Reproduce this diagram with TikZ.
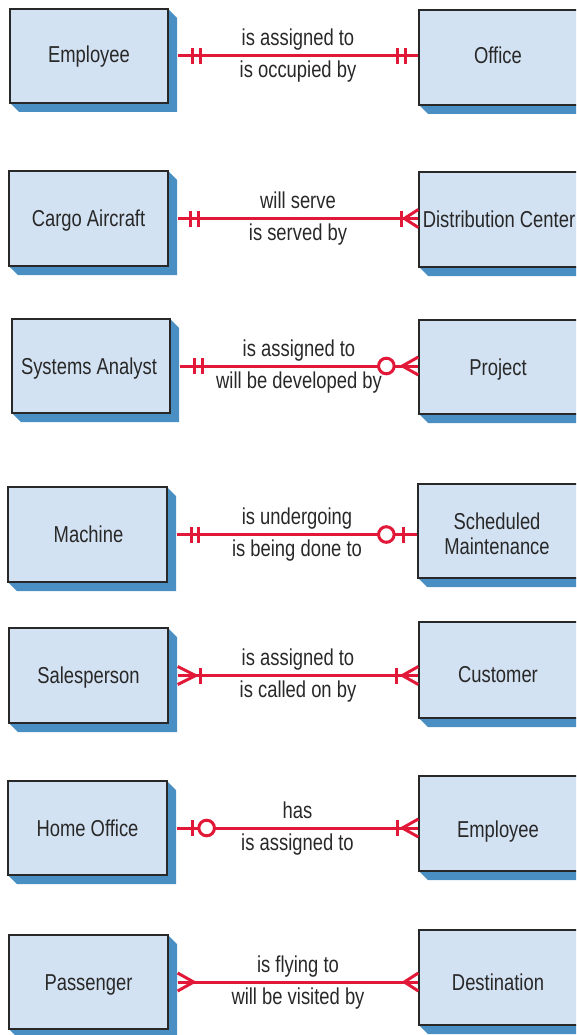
\documentclass[tikz,border=0pt]{standalone}
\usepackage{fontspec}
\setmainfont{Liberation Sans}[FakeStretch=0.8]
\usetikzlibrary{calc}
\definecolor{boxfill}{RGB}{211,226,242}
\definecolor{shadowblue}{RGB}{74,143,196}
\definecolor{relred}{RGB}{226,24,56}
\definecolor{ink}{RGB}{40,40,40}
\tikzset{
  erentity/.style={draw=ink, line width=1.3pt, fill=boxfill, inner sep=0pt},
  ername/.style={text=ink, align=center, inner sep=0pt, anchor=base,
    font=\fontsize{23}{25}\selectfont},
  relline/.style={draw=relred, line width=3pt},
  rellabel/.style={text=ink, font=\fontsize{23}{25}\selectfont, inner sep=0pt, anchor=base},
  pics/erbar/.style={code={\draw[relline] (0,-8) -- (0,8);}},
  pics/erring/.style={code={\draw[relline, fill=white] (0,0) circle (7.8);}},
  pics/ercrowR/.style={code={\draw[relline] (#1,-9) -- (0,0) -- (#1,9);}},
  pics/ercrowL/.style={code={\draw[relline] (-#1,-9) -- (0,0) -- (-#1,9);}},
}
% left entity: name, left, top, right, bottom, text, baseline y of (last line of) text, text x
\newcommand\erbox[8]{%
  \pgfmathsetmacro\erw{#4-#2}\pgfmathsetmacro\erh{#5-#3}%
  \pgfmathsetmacro\erx{(#2+#4)/2}\pgfmathsetmacro\ery{(#3+#5)/2}%
  \fill[shadowblue] (#4,#3) -- ++(9,9) -- ++(0,#5-#3) -- (#2+9,#5+9) -- (#2,#5) -- cycle;
  \node[erentity, minimum width=\erw pt, minimum height=\erh pt] (#1) at (\erx,\ery) {};
  \node[ername] (#1t) at (#8,#7) {#6};}
% right entity (cut off by the right edge): only the bottom of its shadow shows
\newcommand\erboxR[8]{%
  \pgfmathsetmacro\erw{#4-#2}\pgfmathsetmacro\erh{#5-#3}%
  \pgfmathsetmacro\erx{(#2+#4)/2}\pgfmathsetmacro\ery{(#3+#5)/2}%
  \fill[shadowblue] (#2,#5) -- (#2+9,#5+9) -- (#4,#5+9) -- (#4,#5) -- cycle;
  \node[erentity, minimum width=\erw pt, minimum height=\erh pt] (#1) at (\erx,\ery) {};
  \node[ername] (#1t) at (#8,#7) {#6};}
% relationship line: left box, right box, index, upper label, lower label
\newcommand\errel[5]{%
  \coordinate (l#3) at ([xshift=9pt]#1.east);
  \coordinate (r#3) at (#1.east -| #2.west);
  \draw[relline] (l#3) -- (r#3);
  \path (l#3) -- (r#3)
    node[pos=.5, rellabel, yshift=10pt] (u#3) {#4}
    node[pos=.5, rellabel, yshift=-22pt] (d#3) {#5};}
\begin{document}
\begin{tikzpicture}[x=1pt, y=-1pt]
\useasboundingbox (0,0) rectangle (576,1035);
\clip (0,0) rectangle (576,1035);

% row 1
\erbox{a1}{10}{9}{168}{103}{Employee}{62.5}{89}
\erboxR{b1}{419}{10}{580}{105}{Office}{63.5}{498}
\errel{a1}{b1}{1}{is assigned to}{is occupied by}
\pic at ([xshift=15pt]l1) {erbar};
\pic at ([xshift=23pt]l1) {erbar};
\pic at ([xshift=-21pt]r1) {erbar};
\pic at ([xshift=-13pt]r1) {erbar};

% row 2
\erbox{a2}{9}{171}{168}{266}{Cargo Aircraft}{226}{88.5}
\erboxR{b2}{419}{172}{580}{267}{Distribution Center}{227}{499}
\errel{a2}{b2}{2}{will serve}{is served by}
\pic at ([xshift=13pt]l2) {erbar};
\pic at ([xshift=21pt]l2) {erbar};
\pic at ([xshift=-17pt]r2) {erbar};
\pic at ([xshift=-14pt]r2) {ercrowR=14};

% row 3
\erbox{a3}{12}{319}{170}{413}{Systems Analyst}{374}{89}
\erboxR{b3}{419}{320}{580}{414}{Project}{375}{498}
\errel{a3}{b3}{3}{is assigned to}{will be developed by}
\pic at ([xshift=15pt]l3) {erbar};
\pic at ([xshift=23pt]l3) {erbar};
\pic at ([xshift=-32pt]r3) {erring};
\pic at ([xshift=-16pt]r3) {ercrowR=16};

% row 4
\erbox{a4}{8}{487}{167}{582}{Machine}{542}{88.5}
\erboxR{b4}{418}{484}{580}{578}{Scheduled\\Maintenance}{554}{497}
\errel{a4}{b4}{4}{is undergoing}{is being done to}
\pic at ([xshift=15pt]l4) {erbar};
\pic at ([xshift=22pt]l4) {erbar};
\pic at ([xshift=-31pt]r4) {erring};
\pic at ([xshift=-14pt]r4) {erbar};

% row 5
\erbox{a5}{9}{628}{168}{723}{Salesperson}{683}{88.5}
\erboxR{b5}{419}{622}{580}{718}{Customer}{682}{498}
\errel{a5}{b5}{5}{is assigned to}{is called on by}
\pic at ([xshift=18pt]l5) {ercrowL=18};
\pic at ([xshift=23pt]l5) {erbar};
\pic at ([xshift=-22pt]r5) {erbar};
\pic at ([xshift=-16pt]r5) {ercrowR=16};

% row 6
\erbox{a6}{8}{781}{167}{875}{Home Office}{836}{87.5}
\erboxR{b6}{419}{776}{580}{871}{Employee}{837}{498}
\errel{a6}{b6}{6}{has}{is assigned to}
\pic at ([xshift=16pt]l6) {erbar};
\pic at ([xshift=30pt]l6) {erring};
\pic at ([xshift=-21pt]r6) {erbar};
\pic at ([xshift=-16pt]r6) {ercrowR=16};

% row 7
\erbox{a7}{9}{935}{168}{1029}{Passenger}{990}{88.5}
\erboxR{b7}{419}{930}{580}{1025}{Destination}{990}{498}
\errel{a7}{b7}{7}{is flying to}{will be visited by}
\pic at ([xshift=16pt]l7) {ercrowL=16};
\pic at ([xshift=-14pt]r7) {ercrowR=14};
\end{tikzpicture}
\end{document}
